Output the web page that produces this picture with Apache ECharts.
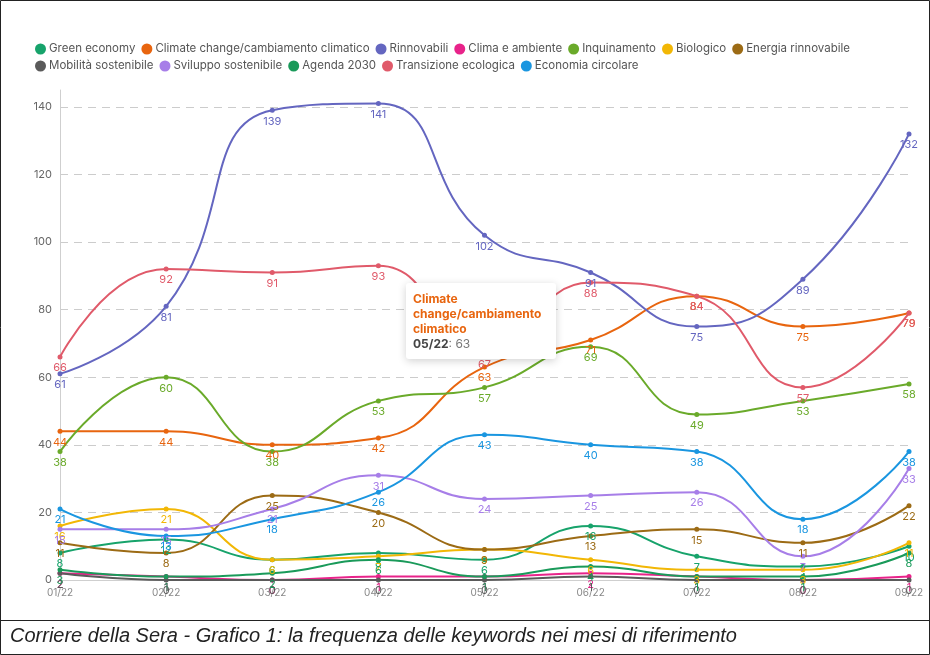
<!DOCTYPE html>
<html>
<head>
<meta charset="utf-8">
<script src="https://cdn.jsdelivr.net/npm/echarts@6/dist/echarts.min.js"></script>
<style>
  html, body { margin: 0; padding: 0; background: #fff; }
  #chart { width: 930px; height: 655px; }
</style>
</head>
<body>
<div id="chart"></div>
<script>
// Months on the x axis
const months = ['01/22', '02/22', '03/22', '04/22', '05/22', '06/22', '07/22', '08/22', '09/22'];

// Monthly keyword counts
const greenEconomy        = [8, 12, 6, 8, 6, 16, 7, 4, 10];
const climateChange       = [44, 44, 40, 42, 63, 71, 84, 75, 79];
const rinnovabili         = [61, 81, 139, 141, 102, 91, 75, 89, 132];
const climaAmbiente       = [2, 1, 0, 1, 1, 2, 1, 0, 1];
const inquinamento        = [38, 60, 38, 53, 57, 69, 49, 53, 58];
const biologico           = [16, 21, 6, 7, 9, 6, 3, 3, 11];
const energiaRinnovabile  = [11, 8, 25, 20, 9, 13, 15, 11, 22];
const mobilitaSostenibile = [2, 0, 0, 0, 0, 1, 0, 0, 0];
const svilupposostenibile = [15, 15, 21, 31, 24, 25, 26, 7, 33];
const agenda2030          = [3, 1, 2, 6, 1, 4, 1, 1, 8];
const transizione         = [66, 92, 91, 93, 67, 88, 84, 57, 79];
const economiaCircolare   = [21, 13, 18, 26, 43, 40, 38, 18, 38];

const seriesDefs = [
  ['Green economy', greenEconomy, '#17a36b'],
  ['Climate change/cambiamento climatico', climateChange, '#e8650f'],
  ['Rinnovabili', rinnovabili, '#6466c0'],
  ['Clima e ambiente', climaAmbiente, '#e8238a'],
  ['Inquinamento', inquinamento, '#6aaa2a'],
  ['Biologico', biologico, '#f2b705'],
  ['Energia rinnovabile', energiaRinnovabile, '#9c6b15'],
  ['Mobilità sostenibile', mobilitaSostenibile, '#5a5a5a'],
  ['Sviluppo sostenibile', svilupposostenibile, '#a77ee8'],
  ['Agenda 2030', agenda2030, '#1a9a5a'],
  ['Transizione ecologica', transizione, '#e05a6a'],
  ['Economia circolare', economiaCircolare, '#1a96e0']
];

const yTicks = { min: 0, max: 145, interval: 20 };
const FONT = 'Inter, Roboto, sans-serif';

const chart = echarts.init(document.getElementById('chart'), null, { renderer: 'canvas' });

const legendCommon = {
  icon: 'circle', itemWidth: 11, itemHeight: 11, itemGap: 6,
  textStyle: { fontFamily: FONT, fontSize: 11.5, color: '#555', padding: [0, 0, 0, -2] },
  left: 30, orient: 'horizontal'
};

chart.setOption({
  animation: false,
  color: seriesDefs.map(d => d[2]),
  legend: [
    Object.assign({}, legendCommon, { top: 38, data: seriesDefs.slice(0, 7).map(d => d[0]) }),
    Object.assign({}, legendCommon, { top: 55, data: seriesDefs.slice(7).map(d => d[0]) })
  ],
  grid: { left: 60, right: 21, top: 90, bottom: 75, containLabel: false },
  tooltip: {
    trigger: 'item', triggerOn: 'none', alwaysShowContent: true, transitionDuration: 0,
    backgroundColor: '#fff', borderWidth: 0, padding: [8, 7],
    extraCssText: 'box-shadow: 0 2px 8px rgba(0,0,0,0.18); border-radius: 3px;',
    position: function (point) { return [point[0] - 79, point[1] - 84]; },
    formatter: function (p) {
      return '<div style="width:136px;white-space:normal;font-family:Inter,Roboto,sans-serif;line-height:15px;">' +
        '<div style="color:' + p.color + ';font-weight:bold;font-size:12px;">' + p.seriesName + '</div>' +
        '<div style="font-size:12px;color:#777;"><b style="color:#444;">' + p.name + '</b>: ' + p.value + '</div></div>';
    }
  },
  xAxis: {
    type: 'category', data: months, boundaryGap: false,
    axisLine: { lineStyle: { color: '#cfcfcf' } },
    axisTick: { show: true, alignWithLabel: true, lineStyle: { color: '#cfcfcf' } },
    axisLabel: { fontFamily: FONT, fontSize: 10, color: '#888', margin: 8 }
  },
  yAxis: {
    type: 'value', min: yTicks.min, max: yTicks.max, interval: yTicks.interval,
    axisLine: { show: true, lineStyle: { color: '#cfcfcf' } },
    axisTick: { show: false },
    axisLabel: { fontFamily: FONT, fontSize: 11, color: '#666', margin: 8, showMaxLabel: false },
    splitLine: { showMaxLine: false, lineStyle: { color: '#cccccc', type: [8, 6], width: 1 } }
  },
  series: seriesDefs.map(d => ({
    name: d[0], type: 'line', data: d[1], smooth: true,
    symbol: 'circle', symbolSize: 5,
    lineStyle: { width: 2, color: d[2] },
    itemStyle: { color: d[2] },
    label: { show: true, position: 'bottom', distance: 3, color: d[2], fontFamily: FONT, fontSize: 11 }
  })),
  graphic: [
    { type: 'rect', shape: { x: 0.5, y: 0.5, width: 929, height: 654 },
      style: { fill: 'none', stroke: '#222', lineWidth: 1 }, silent: true },
    { type: 'line', shape: { x1: 0, y1: 620.5, x2: 930, y2: 620.5 },
      style: { stroke: '#222', lineWidth: 1 }, silent: true },
    { type: 'text', left: 10, top: 626,
      style: { text: 'Corriere della Sera - Grafico 1: la frequenza delle keywords nei mesi di riferimento',
               font: 'italic 20px "Liberation Sans", Arial, sans-serif', fill: '#222' } }
  ]
});

chart.dispatchAction({ type: 'showTip', seriesIndex: 1, dataIndex: 4 });
</script>
</body>
</html>
